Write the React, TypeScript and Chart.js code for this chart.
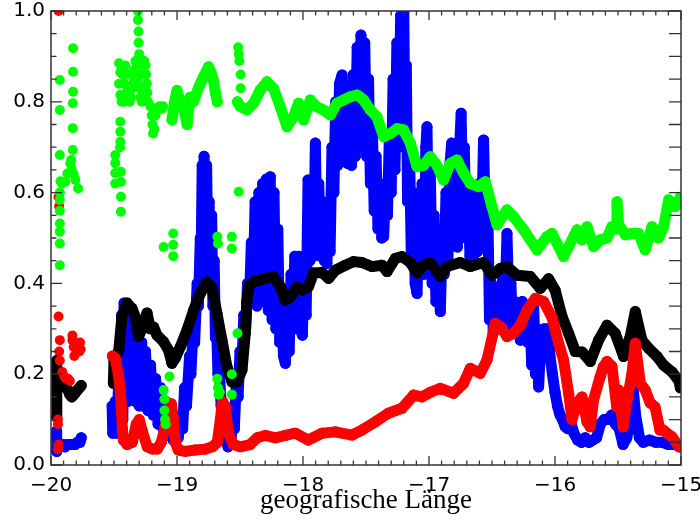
import React, { useEffect, useRef } from "react";
import { Chart, registerables } from "chart.js";

Chart.register(...registerables);

// Axis range / tick labels
const X_MIN = -20;
const X_MAX = -15;
const Y_MIN = 0;
const Y_MAX = 1;
const X_TITLE = "geografische Länge";

// ---- Black series [lon, value] ----
const blackLeft: [number, number][] = [
  [-19.955, 0.23], [-19.955, 0.105], [-19.953, 0.17], [-19.94, 0.175], [-19.925, 0.18],
  [-19.91, 0.185], [-19.895, 0.18], [-19.88, 0.17], [-19.865, 0.165], [-19.85, 0.155],
  [-19.835, 0.15], [-19.82, 0.155], [-19.805, 0.16], [-19.79, 0.165], [-19.775, 0.17], [-19.76, 0.175],
];
const blackMain: [number, number][] = [
  [-19.505, 0.18], [-19.5, 0.23], [-19.463, 0.25], [-19.437, 0.327], [-19.397, 0.357],
  [-19.357, 0.345], [-19.331, 0.326], [-19.305, 0.283], [-19.278, 0.3], [-19.238, 0.335],
  [-19.212, 0.3], [-19.186, 0.304], [-19.159, 0.286], [-19.106, 0.271], [-19.067, 0.253],
  [-19.04, 0.224], [-19.014, 0.235], [-18.974, 0.26], [-18.921, 0.297], [-18.868, 0.341],
  [-18.815, 0.378], [-18.762, 0.403], [-18.722, 0.39], [-18.683, 0.334], [-18.643, 0.275],
  [-18.603, 0.216], [-18.563, 0.183], [-18.524, 0.183], [-18.484, 0.209], [-18.458, 0.29],
  [-18.445, 0.36], [-18.43, 0.395], [-18.38, 0.405], [-18.313, 0.41], [-18.236, 0.415],
  [-18.18, 0.393], [-18.14, 0.363], [-18.101, 0.37], [-18.048, 0.392], [-18.008, 0.385],
  [-17.956, 0.393], [-17.916, 0.423], [-17.849, 0.424], [-17.797, 0.411], [-17.744, 0.429],
  [-17.664, 0.44], [-17.598, 0.448], [-17.532, 0.446], [-17.452, 0.437], [-17.373, 0.44],
  [-17.333, 0.426], [-17.267, 0.455], [-17.214, 0.459], [-17.148, 0.446], [-17.095, 0.423],
  [-17.043, 0.44], [-16.99, 0.446], [-16.91, 0.415], [-16.857, 0.437], [-16.752, 0.446],
  [-16.672, 0.437], [-16.567, 0.446], [-16.5, 0.418], [-16.434, 0.433], [-16.381, 0.437],
  [-16.302, 0.418], [-16.196, 0.415], [-16.117, 0.389], [-16.051, 0.41], [-15.999, 0.385],
  [-15.944, 0.327], [-15.892, 0.29], [-15.839, 0.25], [-15.786, 0.249], [-15.72, 0.228],
  [-15.654, 0.275], [-15.587, 0.308], [-15.522, 0.29], [-15.456, 0.239], [-15.403, 0.283],
  [-15.363, 0.338], [-15.31, 0.275], [-15.257, 0.257], [-15.19, 0.239], [-15.138, 0.22],
  [-15.071, 0.205], [-15.016, 0.185], [-15.005, 0.17],
];

// ---- Red series ----
const redLeftPoints: [number, number][] = [
  [-19.94, 1.0], [-19.94, 0.59], [-19.935, 0.57], [-19.94, 0.327], [-19.93, 0.275],
  [-19.935, 0.25], [-19.93, 0.23], [-19.91, 0.205], [-19.895, 0.195], [-19.88, 0.19],
  [-19.865, 0.19], [-19.83, 0.285], [-19.83, 0.275], [-19.82, 0.26], [-19.815, 0.24],
  [-19.77, 0.27], [-19.765, 0.255], [-19.775, 0.25], [-19.85, 0.185], [-19.945, 0.1],
  [-19.945, 0.09], [-19.94, 0.045], [-19.945, 0.035],
];
const redMain: [number, number][] = [
  [-19.513, 0.24], [-19.49, 0.235], [-19.466, 0.2], [-19.45, 0.165], [-19.442, 0.13],
  [-19.434, 0.08], [-19.426, 0.055], [-19.395, 0.045], [-19.355, 0.05], [-19.323, 0.09],
  [-19.3, 0.1], [-19.276, 0.075], [-19.236, 0.04], [-19.196, 0.035], [-19.156, 0.035],
  [-19.125, 0.05], [-19.1, 0.077], [-19.069, 0.12], [-19.045, 0.135], [-19.03, 0.1],
  [-19.014, 0.05], [-18.99, 0.033], [-18.934, 0.03], [-18.855, 0.033], [-18.775, 0.035],
  [-18.72, 0.04], [-18.68, 0.05], [-18.656, 0.1], [-18.64, 0.14], [-18.617, 0.13],
  [-18.593, 0.07], [-18.553, 0.045], [-18.498, 0.04], [-18.419, 0.045], [-18.363, 0.06],
  [-18.3, 0.065], [-18.22, 0.06], [-18.14, 0.065], [-18.061, 0.07], [-17.958, 0.055],
  [-17.849, 0.07], [-17.744, 0.073], [-17.611, 0.066], [-17.532, 0.077], [-17.426, 0.095],
  [-17.323, 0.114], [-17.214, 0.125], [-17.122, 0.154], [-17.056, 0.15], [-16.99, 0.16],
  [-16.91, 0.169], [-16.805, 0.158], [-16.725, 0.18], [-16.672, 0.213], [-16.593, 0.202],
  [-16.54, 0.231], [-16.474, 0.312], [-16.434, 0.305], [-16.381, 0.283], [-16.329, 0.29],
  [-16.275, 0.308], [-16.222, 0.341], [-16.156, 0.367], [-16.09, 0.36], [-16.024, 0.325],
  [-15.971, 0.268], [-15.932, 0.231], [-15.892, 0.158], [-15.865, 0.1], [-15.825, 0.136],
  [-15.786, 0.15], [-15.746, 0.095], [-15.72, 0.084], [-15.694, 0.143], [-15.641, 0.195],
  [-15.617, 0.216], [-15.587, 0.228], [-15.548, 0.217], [-15.51, 0.128], [-15.495, 0.165],
  [-15.459, 0.084], [-15.441, 0.121], [-15.389, 0.202], [-15.363, 0.268], [-15.323, 0.18],
  [-15.284, 0.165], [-15.245, 0.137], [-15.206, 0.128], [-15.167, 0.077], [-15.14, 0.077],
  [-15.111, 0.07], [-15.071, 0.062], [-15.016, 0.04],
];

// ---- Blue series ----
const blueLeft: [number, number][] = [
  [-19.955, 0.075], [-19.955, 0.03], [-19.945, 0.05], [-19.93, 0.045], [-19.91, 0.045],
  [-19.89, 0.04], [-19.87, 0.045], [-19.85, 0.045], [-19.83, 0.045], [-19.81, 0.045],
  [-19.79, 0.05], [-19.77, 0.05], [-19.76, 0.06],
];
const blueMain: [number, number][] = [
  [-19.515, 0.13], [-19.51, 0.07], [-19.49, 0.14], [-19.48, 0.07], [-19.46, 0.2],
  [-19.45, 0.08], [-19.44, 0.33], [-19.43, 0.1], [-19.42, 0.357], [-19.41, 0.14],
  [-19.4, 0.34], [-19.39, 0.14], [-19.37, 0.3], [-19.36, 0.15], [-19.35, 0.28],
  [-19.33, 0.14], [-19.32, 0.26], [-19.3, 0.13], [-19.28, 0.27], [-19.27, 0.13],
  [-19.25, 0.25], [-19.23, 0.12], [-19.21, 0.22], [-19.19, 0.11], [-19.17, 0.19],
  [-19.15, 0.09], [-19.13, 0.17], [-19.11, 0.08], [-19.09, 0.14], [-19.07, 0.065],
  [-19.05, 0.12], [-19.03, 0.055], [-19.01, 0.07],
  [-18.99, 0.06], [-18.97, 0.11], [-18.955, 0.08], [-18.94, 0.17], [-18.925, 0.13],
  [-18.9, 0.24], [-18.89, 0.2], [-18.87, 0.31], [-18.86, 0.27], [-18.84, 0.4],
  [-18.83, 0.35], [-18.815, 0.5], [-18.81, 0.42], [-18.8, 0.66], [-18.79, 0.55],
  [-18.785, 0.68], [-18.775, 0.48], [-18.765, 0.66], [-18.755, 0.45], [-18.745, 0.58],
  [-18.735, 0.42], [-18.725, 0.55], [-18.715, 0.35], [-18.705, 0.45], [-18.695, 0.28],
  [-18.685, 0.3], [-18.675, 0.2], [-18.665, 0.22], [-18.65, 0.13], [-18.64, 0.14],
  [-18.625, 0.07], [-18.61, 0.06], [-18.595, 0.04],
  [-18.57, 0.06], [-18.56, 0.1], [-18.545, 0.08], [-18.53, 0.18], [-18.515, 0.15],
  [-18.5, 0.25], [-18.485, 0.22], [-18.47, 0.33], [-18.455, 0.3], [-18.44, 0.4],
  [-18.425, 0.36], [-18.41, 0.49], [-18.395, 0.4], [-18.38, 0.58], [-18.365, 0.35],
  [-18.35, 0.6], [-18.335, 0.38], [-18.32, 0.62], [-18.305, 0.36], [-18.29, 0.63],
  [-18.275, 0.34], [-18.26, 0.635], [-18.245, 0.32], [-18.23, 0.6], [-18.215, 0.3],
  [-18.2, 0.52], [-18.185, 0.27], [-18.17, 0.38], [-18.155, 0.24], [-18.14, 0.224],
  [-18.125, 0.32], [-18.11, 0.25], [-18.095, 0.42], [-18.08, 0.32], [-18.065, 0.46],
  [-18.05, 0.3], [-18.035, 0.46], [-18.02, 0.3], [-18.005, 0.286], [-17.99, 0.45],
  [-17.975, 0.33], [-17.96, 0.628], [-17.945, 0.45], [-17.93, 0.6], [-17.915, 0.46],
  [-17.902, 0.709], [-17.89, 0.5], [-17.875, 0.62], [-17.86, 0.46], [-17.845, 0.58],
  [-17.83, 0.45], [-17.81, 0.444], [-17.8, 0.58], [-17.785, 0.47], [-17.77, 0.7],
  [-17.755, 0.6], [-17.74, 0.8], [-17.725, 0.66], [-17.71, 0.84], [-17.69, 0.859],
  [-17.675, 0.68], [-17.66, 0.8], [-17.645, 0.664], [-17.63, 0.78], [-17.615, 0.66],
  [-17.6, 0.86], [-17.585, 0.68], [-17.57, 0.92], [-17.555, 0.7], [-17.54, 0.947],
  [-17.525, 0.72], [-17.51, 0.93], [-17.495, 0.68], [-17.48, 0.85], [-17.465, 0.62],
  [-17.45, 0.75], [-17.435, 0.56], [-17.42, 0.68], [-17.405, 0.52], [-17.39, 0.62],
  [-17.375, 0.5], [-17.36, 0.503], [-17.345, 0.6], [-17.33, 0.55], [-17.315, 0.72],
  [-17.3, 0.6], [-17.285, 0.85], [-17.27, 0.65], [-17.255, 0.93], [-17.24, 0.7],
  [-17.225, 0.99], [-17.21, 0.75], [-17.2, 0.998], [-17.19, 0.7], [-17.18, 0.88],
  [-17.17, 0.58], [-17.155, 0.7], [-17.14, 0.45], [-17.125, 0.6], [-17.11, 0.4],
  [-17.095, 0.378], [-17.08, 0.55],
  [-17.07, 0.42], [-17.055, 0.62], [-17.04, 0.42], [-17.025, 0.7], [-17.016, 0.745],
  [-17.005, 0.52], [-16.99, 0.65], [-16.975, 0.4], [-16.96, 0.55], [-16.945, 0.36],
  [-16.93, 0.45], [-16.91, 0.338], [-16.895, 0.5], [-16.88, 0.42], [-16.865, 0.6],
  [-16.85, 0.45], [-16.835, 0.66], [-16.82, 0.709], [-16.805, 0.5], [-16.79, 0.62],
  [-16.775, 0.48], [-16.76, 0.68], [-16.745, 0.775], [-16.735, 0.62], [-16.72, 0.7],
  [-16.705, 0.5], [-16.69, 0.6], [-16.675, 0.46], [-16.66, 0.58], [-16.645, 0.46],
  [-16.63, 0.6], [-16.615, 0.47], [-16.6, 0.62], [-16.585, 0.5], [-16.567, 0.716],
  [-16.55, 0.5], [-16.535, 0.6], [-16.52, 0.32], [-16.505, 0.4], [-16.49, 0.29],
  [-16.475, 0.38], [-16.46, 0.3], [-16.445, 0.36], [-16.43, 0.3], [-16.415, 0.42],
  [-16.4, 0.32], [-16.381, 0.51], [-16.365, 0.33], [-16.35, 0.4], [-16.335, 0.29],
  [-16.32, 0.36], [-16.305, 0.3], [-16.29, 0.35], [-16.275, 0.275], [-16.26, 0.36],
  [-16.245, 0.28], [-16.23, 0.34], [-16.215, 0.27], [-16.2, 0.34], [-16.185, 0.22],
  [-16.17, 0.36], [-16.155, 0.2], [-16.14, 0.3], [-16.13, 0.172], [-16.115, 0.26],
  [-16.1, 0.24], [-16.085, 0.3], [-16.07, 0.25], [-16.055, 0.3], [-16.04, 0.24],
  [-16.02, 0.2], [-16.0, 0.16], [-15.98, 0.13], [-15.96, 0.11], [-15.94, 0.1],
  [-15.92, 0.085], [-15.9, 0.08], [-15.87, 0.09], [-15.85, 0.07], [-15.82, 0.055],
  [-15.79, 0.05], [-15.76, 0.06], [-15.73, 0.05], [-15.7, 0.055], [-15.67, 0.06],
  [-15.64, 0.09], [-15.61, 0.1], [-15.58, 0.1], [-15.55, 0.11], [-15.52, 0.09],
  [-15.49, 0.08], [-15.46, 0.045], [-15.43, 0.06], [-15.4, 0.11], [-15.38, 0.17],
  [-15.36, 0.11], [-15.33, 0.06], [-15.3, 0.05], [-15.25, 0.055], [-15.2, 0.05],
  [-15.15, 0.05], [-15.1, 0.045], [-15.05, 0.045], [-15.01, 0.04],
];

// ---- Green series ----
const greenPoints: [number, number][] = [
  // far-left scatter
  [-19.93, 0.848], [-19.93, 0.782], [-19.93, 0.683], [-19.925, 0.625], [-19.93, 0.6],
  [-19.93, 0.584], [-19.93, 0.56], [-19.93, 0.532], [-19.93, 0.514], [-19.93, 0.488],
  [-19.93, 0.44], [-19.825, 0.918], [-19.825, 0.866], [-19.825, 0.822], [-19.827, 0.797],
  [-19.827, 0.742], [-19.827, 0.694], [-19.913, 0.62], [-19.887, 0.624], [-19.87, 0.642],
  [-19.847, 0.664], [-19.84, 0.672], [-19.835, 0.65], [-19.82, 0.64], [-19.807, 0.628],
  [-19.785, 0.609],
  // cluster near -19.5
  [-19.45, 0.756], [-19.45, 0.734], [-19.45, 0.712], [-19.452, 0.7], [-19.49, 0.683],
  [-19.49, 0.665], [-19.49, 0.643], [-19.49, 0.62], [-19.445, 0.646], [-19.445, 0.624],
  [-19.445, 0.591], [-19.445, 0.558],
  // upper cluster
  [-19.31, 1.0], [-19.31, 0.98], [-19.305, 0.955], [-19.305, 0.93], [-19.3, 0.905],
  [-19.46, 0.885], [-19.45, 0.865], [-19.44, 0.875], [-19.43, 0.86], [-19.42, 0.84],
  [-19.41, 0.88], [-19.4, 0.86], [-19.39, 0.835], [-19.38, 0.82], [-19.375, 0.8],
  [-19.365, 0.81], [-19.355, 0.83], [-19.345, 0.85], [-19.34, 0.87], [-19.33, 0.89],
  [-19.32, 0.875], [-19.31, 0.85], [-19.3, 0.83], [-19.29, 0.81], [-19.28, 0.8],
  [-19.27, 0.86], [-19.26, 0.89], [-19.25, 0.88], [-19.245, 0.86], [-19.24, 0.84],
  [-19.235, 0.82], [-19.23, 0.8], [-19.46, 0.84], [-19.45, 0.815], [-19.44, 0.8],
  [-19.42, 0.8], [-19.4, 0.82], [-19.36, 0.86], [-19.32, 0.84], [-19.29, 0.86],
  [-19.25, 0.82], [-19.21, 0.79], [-19.2, 0.77], [-19.195, 0.75], [-19.19, 0.73],
  [-19.18, 0.74], [-19.17, 0.77], [-19.16, 0.785], [-19.14, 0.79], [-19.12, 0.785],
  [-19.11, 0.79],
  // lower / middle isolated points
  [-19.106, 0.165], [-19.1, 0.145], [-19.1, 0.12], [-19.095, 0.1], [-19.09, 0.09],
  [-19.06, 0.195], [-18.68, 0.19], [-18.675, 0.17], [-18.67, 0.155], [-18.66, 0.16],
  [-18.565, 0.2], [-18.565, 0.155], [-18.52, 0.29],
  [-19.106, 0.48], [-19.03, 0.51], [-19.03, 0.485], [-19.03, 0.46], [-18.68, 0.503],
  [-18.675, 0.488], [-18.565, 0.503], [-18.565, 0.477], [-18.51, 0.602],
  // column at -18.5
  [-18.515, 0.92], [-18.51, 0.905], [-18.505, 0.89], [-18.495, 0.86], [-18.495, 0.83],
];
const greenTrailLeft: [number, number][] = [
  [-19.04, 0.76], [-19.03, 0.78], [-19.02, 0.8], [-19.0, 0.825], [-18.985, 0.81],
  [-18.97, 0.79], [-18.95, 0.79], [-18.935, 0.77], [-18.92, 0.75], [-18.91, 0.78],
  [-18.895, 0.81], [-18.87, 0.8], [-18.85, 0.815], [-18.83, 0.83], [-18.815, 0.84],
  [-18.79, 0.855], [-18.77, 0.865], [-18.75, 0.877], [-18.73, 0.865], [-18.712, 0.848],
  [-18.695, 0.82], [-18.68, 0.8],
];
const greenTrail: [number, number][] = [
  [-18.52, 0.8], [-18.498, 0.79], [-18.444, 0.782], [-18.392, 0.797], [-18.339, 0.826],
  [-18.286, 0.844], [-18.233, 0.829], [-18.18, 0.789], [-18.127, 0.745], [-18.075, 0.767],
  [-18.035, 0.797], [-17.995, 0.76], [-17.942, 0.804], [-17.889, 0.789], [-17.837, 0.782],
  [-17.783, 0.771], [-17.73, 0.797], [-17.678, 0.804], [-17.625, 0.811], [-17.571, 0.815],
  [-17.519, 0.804], [-17.466, 0.782], [-17.413, 0.767], [-17.36, 0.723], [-17.307, 0.73],
  [-17.254, 0.741], [-17.202, 0.738], [-17.148, 0.709], [-17.095, 0.657], [-17.043, 0.66],
  [-16.99, 0.679], [-16.937, 0.66], [-16.884, 0.628], [-16.831, 0.664], [-16.778, 0.672],
  [-16.725, 0.643], [-16.672, 0.62], [-16.606, 0.613], [-16.553, 0.624], [-16.5, 0.569],
  [-16.46, 0.529], [-16.381, 0.562], [-16.329, 0.547], [-16.249, 0.518], [-16.143, 0.474],
  [-16.063, 0.503], [-16.024, 0.51], [-15.971, 0.481], [-15.932, 0.459], [-15.892, 0.481],
  [-15.825, 0.518], [-15.786, 0.496], [-15.746, 0.525], [-15.694, 0.481], [-15.641, 0.496],
  [-15.587, 0.5], [-15.548, 0.525], [-15.515, 0.52], [-15.508, 0.58], [-15.495, 0.53],
  [-15.441, 0.507], [-15.389, 0.51], [-15.337, 0.51], [-15.284, 0.474], [-15.23, 0.525],
  [-15.178, 0.5], [-15.138, 0.525], [-15.098, 0.584], [-15.045, 0.569], [-15.005, 0.59],
];

const BLUE = "#0000ff";
const RED = "#ff0000";
const GREEN = "#00ff00";
const BLACK = "#000000";

const toXY = (arr: [number, number][]) => arr.map(([x, y]) => ({ x, y }));

function lineSet(data: [number, number][], color: string, order: number) {
  return {
    data: toXY(data),
    showLine: true,
    borderColor: color,
    backgroundColor: color,
    borderWidth: 11,
    borderJoinStyle: "round" as const,
    borderCapStyle: "round" as const,
    pointRadius: 5.5,
    pointBorderWidth: 0,
    pointHoverRadius: 0,
    tension: 0,
    clip: 0,
    order,
  };
}
function pointSet(data: [number, number][], color: string, order: number) {
  return {
    data: toXY(data),
    showLine: false,
    borderColor: color,
    backgroundColor: color,
    pointRadius: 5,
    pointBorderWidth: 0,
    pointHoverRadius: 0,
    clip: 0,
    order,
  };
}

const frameTicks = {
  id: "frameTicks",
  afterDatasetsDraw(chart: any) {
    const { ctx, chartArea: a, scales } = chart;
    const x = scales.x;
    const y = scales.y;
    ctx.save();
    ctx.strokeStyle = "#333333";
    ctx.lineWidth = 1.3;
    ctx.beginPath();
    for (let i = 0; i <= 50; i++) {
      const v = X_MIN + i * 0.1;
      const px = x.getPixelForValue(v);
      const len = i % 10 === 0 ? 9 : 4.5;
      ctx.moveTo(px, a.bottom);
      ctx.lineTo(px, a.bottom - len);
      ctx.moveTo(px, a.top);
      ctx.lineTo(px, a.top + len);
    }
    for (let i = 0; i <= 20; i++) {
      const v = Y_MIN + i * 0.05;
      const py = y.getPixelForValue(v);
      const len = i % 4 === 0 ? 11 : 5.5;
      ctx.moveTo(a.left, py);
      ctx.lineTo(a.left + len, py);
      ctx.moveTo(a.right, py);
      ctx.lineTo(a.right - 12, py);
    }
    ctx.stroke();
    ctx.lineWidth = 1.5;
    ctx.strokeRect(a.left, a.top, a.right - a.left, a.bottom - a.top);
    ctx.restore();
  },
};

const TICK_FONT = { family: "'DejaVu Sans', 'Liberation Sans', sans-serif", size: 20 };

export default function App() {
  const ref = useRef<HTMLCanvasElement | null>(null);
  useEffect(() => {
    if (!ref.current) return;
    const chart = new Chart(ref.current, {
      type: "scatter",
      data: {
        datasets: [
          lineSet(blueLeft, BLUE, 3),
          lineSet(blueMain, BLUE, 3),
          lineSet(blackLeft, BLACK, 2),
          lineSet(blackMain, BLACK, 2),
          pointSet(redLeftPoints, RED, 1),
          lineSet(redMain, RED, 1),
          pointSet(greenPoints, GREEN, 0),
          lineSet(greenTrailLeft, GREEN, 0),
          lineSet(greenTrail, GREEN, 0),
        ] as any,
      },
      options: {
        responsive: false,
        animation: false,
        events: [],
        layout: { padding: { top: 11, right: 19, left: 0, bottom: 0 } },
        plugins: { legend: { display: false }, tooltip: { enabled: false } },
        scales: {
          x: {
            type: "linear",
            min: X_MIN,
            max: X_MAX,
            grid: { display: false, drawTicks: false },
            border: { display: false },
            ticks: {
              stepSize: 1,
              padding: 9,
              maxRotation: 0,
              autoSkip: false,
              color: "#000",
              font: TICK_FONT,
              callback: (v: any) => String(v).replace("-", "\u2212"),
            },
            title: {
              display: true,
              text: X_TITLE,
              color: "#000",
              font: { family: "'Liberation Serif', 'Times New Roman', serif", size: 27 },
              padding: { top: 0, bottom: 4 },
            },
            afterFit: (s: any) => {
              s.height = 56;
              s.paddingLeft = 0;
              s.paddingRight = 0;
            },
          },
          y: {
            type: "linear",
            min: Y_MIN,
            max: Y_MAX,
            grid: { display: false, drawTicks: false },
            border: { display: false },
            ticks: {
              stepSize: 0.2,
              padding: 6,
              color: "#000",
              font: TICK_FONT,
              callback: (v: any) => Number(v).toFixed(1),
            },
            afterFit: (s: any) => {
              s.width = 51;
              s.paddingTop = 0;
              s.paddingBottom = 0;
            },
          },
        },
      },
      plugins: [frameTicks],
    });
    return () => chart.destroy();
  }, []);
  return (
    <div style={{ position: "absolute", left: 0, top: 0, width: 700, height: 521, background: "#fff" }}>
      <canvas ref={ref} width={700} height={521} style={{ display: "block" }} />
    </div>
  );
}
